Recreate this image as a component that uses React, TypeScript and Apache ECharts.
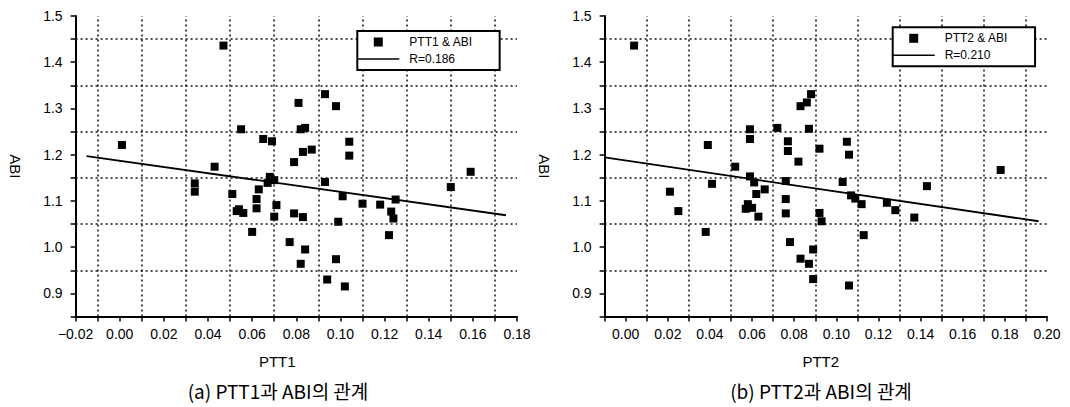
import React, { useEffect, useRef } from 'react';
import * as echarts from 'echarts';

// (a) PTT1 vs ABI
const ptt1 = [0.001, 0.047, 0.043, 0.034, 0.034, 0.051, 0.055, 0.053, 0.054, 0.056, 0.060, 0.062, 0.062, 0.063, 0.065, 0.069, 0.067, 0.068, 0.070, 0.071, 0.070, 0.077, 0.079, 0.081, 0.082, 0.084, 0.083, 0.087, 0.079, 0.083, 0.084, 0.082, 0.093, 0.098, 0.093, 0.094, 0.098, 0.099, 0.101, 0.102, 0.104, 0.104, 0.110, 0.118, 0.122, 0.123, 0.124, 0.125, 0.150, 0.159];
const abi1 = [1.221, 1.436, 1.174, 1.138, 1.120, 1.115, 1.255, 1.078, 1.082, 1.074, 1.033, 1.104, 1.084, 1.125, 1.234, 1.229, 1.139, 1.152, 1.145, 1.091, 1.066, 1.011, 1.184, 1.312, 1.255, 1.258, 1.206, 1.211, 1.073, 1.065, 0.995, 0.964, 1.331, 1.305, 1.141, 0.930, 0.974, 1.055, 1.110, 0.915, 1.228, 1.198, 1.094, 1.092, 1.026, 1.077, 1.062, 1.103, 1.130, 1.163];
const fit1X = [-0.015, 0.175];
const fit1Y = [1.197, 1.069];

// (b) PTT2 vs ABI
const ptt2 = [0.004, 0.021, 0.025, 0.038, 0.039, 0.041, 0.052, 0.057, 0.058, 0.059, 0.059, 0.059, 0.060, 0.061, 0.062, 0.063, 0.066, 0.072, 0.076, 0.076, 0.076, 0.077, 0.077, 0.078, 0.082, 0.083, 0.086, 0.088, 0.087, 0.083, 0.089, 0.087, 0.089, 0.092, 0.092, 0.093, 0.103, 0.105, 0.106, 0.106, 0.107, 0.109, 0.112, 0.113, 0.124, 0.128, 0.137, 0.143, 0.178];
const abi2 = [1.436, 1.120, 1.078, 1.033, 1.221, 1.137, 1.174, 1.083, 1.093, 1.153, 1.255, 1.234, 1.085, 1.140, 1.115, 1.066, 1.125, 1.258, 1.143, 1.104, 1.073, 1.229, 1.208, 1.011, 1.185, 1.305, 1.313, 1.331, 1.256, 0.975, 0.995, 0.964, 0.931, 1.213, 1.074, 1.056, 1.141, 1.228, 1.200, 0.917, 1.112, 1.105, 1.093, 1.026, 1.096, 1.080, 1.064, 1.132, 1.167];
const fit2X = [-0.01, 0.196];
const fit2Y = [1.194, 1.056];

// dotted grid positions and captions
const gridLinesY = [0.95, 1.05, 1.15, 1.25, 1.35, 1.45];
const gridLinesX1 = [-0.01, 0.01, 0.03, 0.05, 0.07, 0.09, 0.11, 0.13, 0.15, 0.17];
const gridLinesX2 = [0.01, 0.03, 0.05, 0.07, 0.09, 0.11, 0.13, 0.15, 0.17, 0.19];
const names1 = ['PTT1 & ABI', 'R=0.186'];
const names2 = ['PTT2 & ABI', 'R=0.210'];
const captions = ['(a) PTT1과 ABI의 관계', '(b) PTT2과 ABI의 관계'];
const xNames = ['PTT1', 'PTT2'];

const FONT = '"Liberation Sans", Arial, sans-serif';

const xLabel = (v: number) => {
  const h = Math.round(v * 100);
  if (Math.abs(h) % 2 !== 0) return '';
  const s = Math.abs(v).toFixed(2);
  return h < 0 ? '\u2212' + s : s;
};
const yLabel = (v: number) => {
  const h = Math.round(v * 100);
  if (h % 10 !== 0) return '';
  return v.toFixed(1);
};

function makeX(idx: number, min: number, max: number, name: string) {
  return {
    type: 'value', gridIndex: idx, min, max, interval: 0.01,
    name, nameLocation: 'middle', nameGap: 37,
    nameTextStyle: { fontFamily: FONT, fontSize: 15, color: '#000', padding: idx === 0 ? [0, 38, 0, 0] : [0, 10, 0, 0] },
    axisLine: { show: true, onZero: false, lineStyle: { color: '#000', width: 2 } },
    axisTick: { show: true, inside: false, length: 5, lineStyle: { color: '#000', width: 1.5 } },
    axisLabel: { formatter: xLabel, margin: 10, fontFamily: FONT, fontSize: 14, color: '#000', showMinLabel: true, showMaxLabel: true },
    splitLine: { show: false },
  };
}
function makeY(idx: number) {
  return {
    type: 'value', gridIndex: idx, min: 0.85, max: 1.5, interval: 0.05,
    name: 'ABI', nameLocation: 'middle', nameGap: 53, nameRotate: -90,
    nameTextStyle: { fontFamily: FONT, fontSize: 15, color: '#000' },
    axisLine: { show: true, onZero: false, lineStyle: { color: '#000', width: 2 } },
    axisTick: { show: true, inside: false, length: 5, lineStyle: { color: '#000', width: 1.5 } },
    axisLabel: { formatter: yLabel, margin: 13, fontFamily: FONT, fontSize: 14, color: '#000', showMinLabel: true, showMaxLabel: true },
    splitLine: { show: false },
  };
}
function gridMark(xs: number[]) {
  return {
    silent: true,
    symbol: ['none', 'none'],
    label: { show: false },
    emphasis: { disabled: true },
    lineStyle: { color: '#111', type: [2, 3], width: 1.5 },
    data: [...gridLinesY.map((v) => ({ yAxis: v })), ...xs.map((v) => ({ xAxis: v }))],
  };
}
function makeLegend(names: string[], left: number, top: number) {
  return {
    z: 20,
    data: [
      { name: names[0], icon: 'path://M0 0H10V10H0Z' },
      { name: names[1], icon: 'path://M0 0H42V1.6H0Z' },
    ],
    orient: 'vertical', left, top,
    itemWidth: 42, itemHeight: 9, itemGap: 5,
    padding: [5, 27, 5, 0],
    borderColor: '#000', borderWidth: 2, backgroundColor: '#fff',
    textStyle: { fontFamily: FONT, fontSize: 12, color: '#000', padding: [0, 0, 0, 5] },
    selectedMode: false,
  };
}

export default function App() {
  const ref = useRef<HTMLDivElement>(null);
  useEffect(() => {
    if (!ref.current) return;
    const chart = echarts.init(ref.current, null, { renderer: 'svg' });
    chart.setOption({
      animation: false,
      backgroundColor: '#fff',
      grid: [
        { left: 75.6, top: 16, width: 441.4, height: 300.5 },
        { left: 604.6, top: 16, width: 442.4, height: 300.5 },
      ],
      xAxis: [makeX(0, -0.02, 0.18, xNames[0]), makeX(1, -0.01, 0.2, xNames[1])],
      yAxis: [makeY(0), makeY(1)],
      legend: [makeLegend(names1, 357.3, 31), makeLegend(names2, 892.7, 27.3)],
      series: [
        {
          type: 'scatter', name: names1[0], xAxisIndex: 0, yAxisIndex: 0,
          data: ptt1.map((x, i) => [x, abi1[i]]),
          symbol: 'rect', symbolSize: 8, itemStyle: { color: '#000', opacity: 1 },
          markLine: gridMark(gridLinesX1),
        },
        {
          type: 'line', name: names1[1], xAxisIndex: 0, yAxisIndex: 0,
          data: fit1X.map((x, i) => [x, fit1Y[i]]),
          symbol: 'none', lineStyle: { color: '#000', width: 1.8 }, itemStyle: { color: '#000' },
        },
        {
          type: 'scatter', name: names2[0], xAxisIndex: 1, yAxisIndex: 1,
          data: ptt2.map((x, i) => [x, abi2[i]]),
          symbol: 'rect', symbolSize: 8, itemStyle: { color: '#000', opacity: 1 },
          markLine: gridMark(gridLinesX2),
        },
        {
          type: 'line', name: names2[1], xAxisIndex: 1, yAxisIndex: 1,
          data: fit2X.map((x, i) => [x, fit2Y[i]]),
          symbol: 'none', lineStyle: { color: '#000', width: 1.8 }, itemStyle: { color: '#000' },
        },
      ],
      graphic: [
        { type: 'text', x: 278, y: 390, style: { text: captions[0], fontFamily: '"Noto Sans CJK KR", sans-serif', fontSize: 19, fill: '#000', textAlign: 'center', textVerticalAlign: 'middle' } },
        { type: 'text', x: 821, y: 390, style: { text: captions[1], fontFamily: '"Noto Sans CJK KR", sans-serif', fontSize: 19, fill: '#000', textAlign: 'center', textVerticalAlign: 'middle' } },
      ],
    });
    return () => chart.dispose();
  }, []);
  return <div ref={ref} style={{ position: 'absolute', left: 0, top: 0, width: 1070, height: 407 }} />;
}
